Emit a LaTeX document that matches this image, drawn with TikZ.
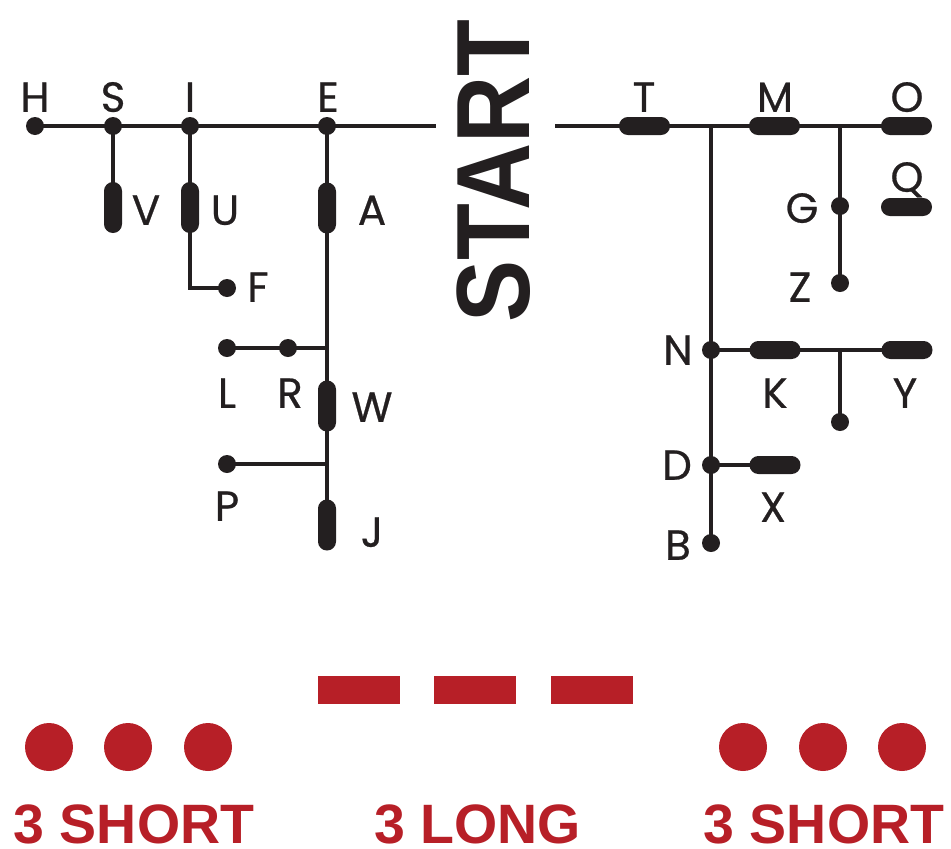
\documentclass[tikz,border=0pt]{standalone}
\usepackage{fontspec}
\newfontfamily\lblfont{Poppins}[FakeBold=0.6]
\newfontfamily\boldsans{Liberation Sans}
\definecolor{morse}{HTML}{B71F27}
\definecolor{ink}{HTML}{231F20}
\begin{document}
\begin{tikzpicture}[x=1pt,y=-1pt,
  conn/.style={line width=3.5pt,draw=ink},
  dot/.style={circle,fill=ink,inner sep=0pt,minimum size=18pt},
  vpill/.style={rectangle,fill=ink,inner sep=0pt,minimum width=18pt,minimum height=51pt,rounded corners=8.9pt},
  hpill/.style={rectangle,fill=ink,inner sep=0pt,minimum width=51pt,minimum height=18pt,rounded corners=8.9pt},
  lbl/.style={font=\fontsize{42}{42}\selectfont\lblfont,text=ink,inner sep=0pt,text height=29.5pt,text depth=0pt},
  shortmark/.style={circle,fill=morse,inner sep=0pt,minimum size=48pt},
  longmark/.style={rectangle,fill=morse,inner sep=0pt,minimum width=82pt,minimum height=28pt},
  legend/.style={font=\fontsize{55.5}{56}\selectfont\boldsans\bfseries,text=morse,inner sep=0pt,text height=39.7pt,text depth=0pt}]
\useasboundingbox (0,0) rectangle (951,849);
% left tree
\node[dot] (H) at (35,126) {};
\node[dot] (S) at (113,126) {};
\node[dot] (I) at (190,126) {};
\node[dot] (E) at (327,126) {};
\coordinate (lend) at (436,126);
\node[vpill] (V) at (113,207.5) {};
\node[vpill] (U) at (190,207.5) {};
\node[vpill] (A) at (327,208) {};
\node[dot] (F) at (227,288) {};
\node[dot] (L) at (227,348) {};
\node[dot] (R) at (288,348) {};
\coordinate (LRj) at (327,348);
\node[vpill] (W) at (327,406) {};
\node[dot] (P) at (227,464) {};
\coordinate (Pj) at (327,464);
\node[vpill] (J) at (327,525) {};
% right tree
\coordinate (rstart) at (555,126);
\node[hpill] (T) at (644.5,126) {};
\coordinate (Nbr) at (711,126);
\node[hpill] (M) at (774.5,126) {};
\coordinate (Gbr) at (840,126);
\node[hpill] (O) at (906.5,126) {};
\node[hpill] (Q) at (906.5,207) {};
\node[dot] (G) at (840,206) {};
\node[dot] (Z) at (840,283) {};
\node[dot] (N) at (711,350) {};
\node[hpill] (K) at (775,350) {};
\coordinate (Kbr) at (840,350);
\node[hpill] (Y) at (907,350) {};
\node[dot] (KYend) at (840,422) {};
\node[dot] (D) at (711,465) {};
\node[hpill] (X) at (775,465) {};
\node[dot] (B) at (711,543) {};
% connectors
\draw[conn] (H.center) -- (lend);
\draw[conn] (S.center) -- (V.center);
\draw[conn] (I.center) -- (U.center) |- (F.center);
\draw[conn] (E.center) -- (J.center);
\draw[conn] (L.center) -- (LRj);
\draw[conn] (P.center) -- (Pj);
\draw[conn] (rstart) -- (O.center);
\draw[conn] (Nbr) -- (B.center);
\draw[conn] (Gbr) -- (Z.center);
\draw[conn] (N.center) -- (Y.center);
\draw[conn] (Kbr) -- (KYend.center);
\draw[conn] (D.center) -- (X.center);
% labels
\node[lbl] (lH) at (35,97) {H};
\node[lbl] (lS) at (113,97) {S};
\node[lbl] (lI) at (190,97) {I};
\node[lbl] (lE) at (328,97) {E};
\node[lbl] (lV) at (146,210) {V};
\node[lbl] (lU) at (225,210) {U};
\node[lbl] (lA) at (372,210) {A};
\node[lbl] (lF) at (258,287) {F};
\node[lbl] (lL) at (227,393) {L};
\node[lbl] (lR) at (290,393) {R};
\node[lbl] (lW) at (372,407) {W};
\node[lbl] (lP) at (227,506) {P};
\node[lbl] (lJ) at (372,532) {J};
\node[lbl] (lT) at (644,97) {T};
\node[lbl] (lM) at (775,97) {M};
\node[lbl] (lO) at (907,97) {O};
\node[lbl] (lQ) at (907,177) {Q};
\node[lbl] (lG) at (802,208) {G};
\node[lbl] (lZ) at (800,287) {Z};
\node[lbl] (lN) at (678,350) {N};
\node[lbl] (lK) at (775,393) {K};
\node[lbl] (lY) at (905,393) {Y};
\node[lbl] (lD) at (677,465) {D};
\node[lbl] (lX) at (773,507) {X};
\node[lbl] (lB) at (678,545) {B};
% start
\node[rotate=90,inner sep=0pt,text=ink,font=\fontsize{93}{93}\selectfont\boldsans\bfseries] (start) at (494,171) {\scalebox{1}[1.12]{START}};
% legend
\node[longmark] (d1) at (359,690) {};
\node[longmark] (d2) at (475,690) {};
\node[longmark] (d3) at (592,690) {};
\node[shortmark] (s1) at (49,747) {};
\node[shortmark] (s2) at (128,747) {};
\node[shortmark] (s3) at (208,747) {};
\node[shortmark] (s4) at (743,747) {};
\node[shortmark] (s5) at (823,747) {};
\node[shortmark] (s6) at (902,747) {};
\node[legend] (t1) at (134,824) {3 SHORT};
\node[legend] (t2) at (477.5,824) {3 LONG};
\node[legend] (t3) at (824,824) {3 SHORT};
\end{tikzpicture}
\end{document}
